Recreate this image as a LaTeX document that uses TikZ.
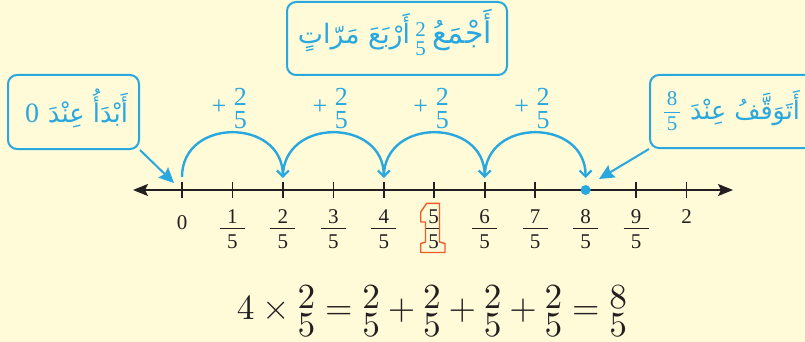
\RequirePackage{fix-cm}
\documentclass[tikz,border=0pt]{standalone}
\usepackage{fontspec}
\usepackage{graphicx}
\usetikzlibrary{arrows.meta,calc}
\TeXXeTstate=1
\newfontfamily\arabicfont[Script=Arabic]{DejaVu Sans}
\newfontfamily\numfont{Liberation Serif}
\definecolor{bgc}{RGB}{255,250,215}
\definecolor{ablue}{RGB}{41,168,224}
\definecolor{ink}{RGB}{35,31,32}
\definecolor{orng}{RGB}{240,90,40}
\newcommand\efr[2]{\mathord{\vcenter{\offinterlineskip\halign{\hfil$##$\hfil\cr#1\cr\noalign{\kern1.7pt}#2\cr}}}}
\begin{document}
\begin{tikzpicture}[x=1pt,y=-1pt,
  callout/.style={draw=ablue, line width=2pt, rounded corners=9pt, inner sep=0pt},
  tlabel/.style={inner sep=0pt, text=ink, font=\numfont\fontsize{21}{21}\selectfont},
  blabel/.style={inner sep=0pt, text=ablue, font=\numfont\fontsize{26}{26}\selectfont},
  bdigit/.style={inner sep=0pt, text=ablue, font=\numfont\fontsize{21}{21}\selectfont},
  arab/.style={inner sep=0pt, text=ablue, anchor=base},
  tick/.style={draw=ink, line width=1.6pt},
  jump/.style={draw=ablue, line width=2.4pt, -{Straight Barb[length=6pt,width=12pt,line width=2.2pt]}},
  pointer/.style={draw=ablue, line width=2pt, -{Stealth[length=15pt,width=14pt,inset=2pt]}},
  axis/.style={draw=ink, line width=1.8pt, {Stealth[length=15pt,width=12pt,inset=3pt]}-{Stealth[length=15pt,width=12pt,inset=3pt]}}]
\fill[bgc] (0,0) rectangle (805,342);
\useasboundingbox (0,0) rectangle (805,342);

% number line
\coordinate (axL) at (133,190);
\coordinate (axR) at (733,190);
\draw[axis] (axL) -- (axR);
\foreach \k in {0,1,2,3,4,5,6,7,9,10} {
  \draw[tick] (182+50.45*\k,182) -- (182+50.45*\k,198);
}
\fill[ablue] (585.6,190) circle (5pt);

% tick labels
\node[tlabel] (lab0) at (182,223) {0};
\node[tlabel] (lab10) at (686.5,217) {2};
\foreach \k in {1,2,3,4,6,7,8,9} {
  \node[tlabel] (num\k) at (182+50.45*\k,216.5) {\k};
  \node[tlabel] (den\k) at (182+50.45*\k,242) {5};
  \draw[ink, line width=0.9pt] (182+50.45*\k-12.5,228.5) -- (182+50.45*\k+12.5,228.5);
}
\node[tlabel] (num5) at (433.5,216.5) {5};
\node[tlabel] (den5) at (433.5,242) {5};
\draw[ink, line width=0.9pt] (425.5,228.5) -- (440,228.5);
\draw[orng, line width=1.4pt, line join=round]
  (426.7,203.3) -- (439.5,203.3) -- (439.5,242) -- (445,243.5) -- (445,252.5)
  -- (420.7,252.5) -- (420.7,243.5) -- (425.5,242) -- (425.5,222)
  -- (420.7,222) -- (420.7,212) -- cycle;

% jumps
\foreach \i in {0,2,4,6} {
  \coordinate (js\i) at (182+50.45*\i,177);
  \coordinate (je\i) at (182+50.45*\i+100.9,178);
  \draw[jump] (js\i) .. controls +(0,-60) and +(0,-60) .. (je\i);
  \node[blabel] (plus\i) at (182+50.45*\i+50.45-13.5,107.5) {+};
  \node[blabel] (pn\i) at (182+50.45*\i+50.45+8,97) {2};
  \node[blabel] (pd\i) at (182+50.45*\i+50.45+8,120.5) {5};
}

% top box
\node[callout, minimum width=220pt, minimum height=73pt] (tbox) at (397,38.5) {};
\node[arab] (t1) at (462,44) {\resizebox{60pt}{!}{\arabicfont\beginR أَجْمَعُ\endR}};
\node[bdigit] (t2n) at (420.7,30) {2};
\node[bdigit] (t2d) at (420.7,48.5) {5};
\node[arab] (t3) at (354,44) {\resizebox{112pt}{!}{\arabicfont\beginR أَرْبَعَ مَرّاتٍ\endR}};

% left box
\node[callout, minimum width=131pt, minimum height=74pt] (lbox) at (73.5,112) {};
\node[arab] (l1) at (88,123) {\resizebox{80pt}{!}{\arabicfont\beginR أَبْدَأُ عِنْدَ\endR}};
\node[inner sep=0pt, text=ablue, anchor=base, font=\numfont\fontsize{28}{28}\selectfont] (l0) at (32,123) {0};
\coordinate (ltip) at (174,183);
\draw[pointer] (lbox.south east) -- (ltip);

% right box (cut at the edge)
\begin{scope}
\clip (0,0) rectangle (805,342);
\node[callout, minimum width=168pt, minimum height=73pt] (rbox) at (734,111.5) {};
\node[arab] (r1) at (745,120) {\resizebox{110pt}{!}{\arabicfont\beginR أَتَوَقَّفُ عِنْدَ\endR}};
\end{scope}
\node[bdigit] (r8n) at (672,99) {8};
\node[bdigit] (r8d) at (672,124) {5};
\draw[ablue, line width=1pt] (664,112.7) -- (680,112.7);
\coordinate (rtip) at (599,179);
\draw[pointer] (rbox.south west) -- (rtip);

% equation
\node[inner sep=0pt, text=ink] (eq) at (432,311) {\resizebox{390pt}{!}{$4\times\efr{2}{5}=\efr{2}{5}+\efr{2}{5}+\efr{2}{5}+\efr{2}{5}=\efr{8}{5}$}};
\end{tikzpicture}
\end{document}
